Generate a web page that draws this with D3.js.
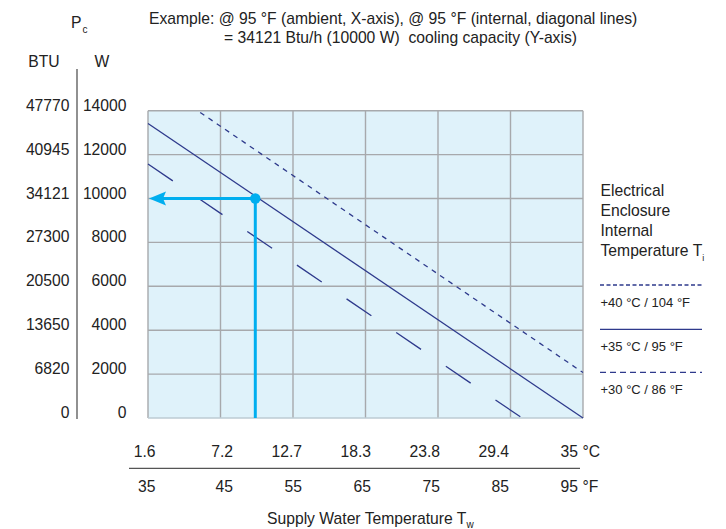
<!DOCTYPE html>
<html><head><meta charset="utf-8">
<script src="https://cdn.jsdelivr.net/npm/d3@7"></script>
<style>
body{margin:0;background:#fff;}
svg{display:block;font-family:"Liberation Sans",Arial,Helvetica,sans-serif;}
text{white-space:pre;}
</style>
</head><body>
<svg id="chart" width="726" height="529"></svg>
<script>
// ---------- data ----------
const fahrenheitTicks = [35, 45, 55, 65, 75, 85, 95];
const celsiusLabels = ["1.6", "7.2", "12.7", "18.3", "23.8", "29.4", "35"];
const fahrenheitLabels = ["35", "45", "55", "65", "75", "85", "95"];
const wattTicks = [0, 2000, 4000, 6000, 8000, 10000, 12000, 14000];
const btuLabels = ["0", "6820", "13650", "20500", "27300", "34121", "40945", "47770"];
const line40 = [[42.2, 13920], [95, 2070]];   // +40 °C / 104 °F
const line35 = [[35, 13420], [95, 0]];        // +35 °C / 95 °F
const line30 = [[35, 11570], [86.6, 0]];      // +30 °C / 86 °F
const examplePoint = [49.8, 10000];
const legendLabels = ["+40 °C / 104 °F", "+35 °C / 95 °F", "+30 °C / 86 °F"];
const titleLines = ["Example: @ 95 °F (ambient, X-axis), @ 95 °F (internal, diagonal lines)",
                    "= 34121 Btu/h (10000 W)  cooling capacity (Y-axis)"];

// ---------- setup ----------
const svg = d3.select("#chart");
const FS = 15.7;
const navy = "#2e3a8c";
const cyan = "#00aeef";
const gridC = "#a7a9ac";

const x = d3.scaleLinear().domain([35, 95]).range([148, 583]);
const y = d3.scaleLinear().domain([0, 14000]).range([418, 110.7]);
const labelX = d3.scaleLinear().domain([0, 1, 6]).range([155.5, 233, 578]);

// plot background
svg.append("rect")
  .attr("x", x(35)).attr("y", y(14000))
  .attr("width", x(95) - x(35)).attr("height", y(0) - y(14000))
  .attr("fill", "#dff2fa");

// grid
const g = svg.append("g");
g.selectAll(".v").data(fahrenheitTicks).join("line")
  .attr("x1", d => x(d)).attr("x2", d => x(d))
  .attr("y1", y(14000)).attr("y2", y(0))
  .attr("stroke", gridC).attr("stroke-width", 1.4);
g.selectAll(".h").data(wattTicks).join("line")
  .attr("x1", x(35)).attr("x2", x(95))
  .attr("y1", d => y(d)).attr("y2", d => y(d))
  .attr("stroke", d => d === 0 ? "#bccbd3" : gridC).attr("stroke-width", 1.4);

// data lines
const lineGen = d3.line().x(d => x(d[0])).y(d => y(d[1]));
svg.append("path").attr("d", lineGen(line40)).attr("fill", "none")
  .attr("stroke", navy).attr("stroke-width", 1.3).attr("stroke-dasharray", "5,5");
svg.append("path").attr("d", lineGen(line35)).attr("fill", "none")
  .attr("stroke", navy).attr("stroke-width", 1.3);
svg.append("path").attr("d", lineGen(line30)).attr("fill", "none")
  .attr("stroke", navy).attr("stroke-width", 1.3).attr("stroke-dasharray", "30,30");

// example arrow
const ex = x(examplePoint[0]), ey = y(examplePoint[1]);
svg.append("line").attr("x1", ex).attr("x2", ex).attr("y1", ey).attr("y2", y(0))
  .attr("stroke", cyan).attr("stroke-width", 3);
const tipX = x(35) + 1;
svg.append("line").attr("x1", ex).attr("x2", tipX + 14).attr("y1", ey).attr("y2", ey)
  .attr("stroke", cyan).attr("stroke-width", 3);
svg.append("path")
  .attr("d", `M${tipX},${ey} L${tipX + 17},${ey - 7} L${tipX + 14},${ey} L${tipX + 17},${ey + 7} Z`)
  .attr("fill", cyan);
svg.append("circle").attr("cx", ex).attr("cy", ey).attr("r", 5.2).attr("fill", cyan);

// left axis
svg.append("line").attr("x1", 77).attr("x2", 77).attr("y1", 69).attr("y2", 419)
  .attr("stroke", "#555").attr("stroke-width", 1.3);
svg.selectAll(".btu").data(wattTicks).join("text")
  .attr("x", 69.5).attr("y", d => y(d)).attr("text-anchor", "end")
  .attr("font-size", FS).attr("fill", "#222")
  .text((d, i) => btuLabels[i]);
svg.selectAll(".w").data(wattTicks).join("text")
  .attr("x", 126.5).attr("y", d => y(d)).attr("text-anchor", "end")
  .attr("font-size", FS).attr("fill", "#222")
  .text(d => d3.format("d")(d));
svg.append("text").attr("x", 44).attr("y", 67.3).attr("text-anchor", "middle")
  .attr("font-size", FS).attr("fill", "#222").text("BTU");
svg.append("text").attr("x", 102).attr("y", 67.3).attr("text-anchor", "middle")
  .attr("font-size", FS).attr("fill", "#222").text("W");
const pc = svg.append("text").attr("x", 71).attr("y", 27.5).attr("font-size", FS).attr("fill", "#222");
pc.append("tspan").text("P");
pc.append("tspan").attr("dy", 5).attr("dx", 1).attr("font-size", 10).text("c");

// title
svg.append("text").attr("x", 149).attr("y", 23.6).attr("font-size", FS).attr("fill", "#222").text(titleLines[0]);
svg.append("text").attr("x", 224).attr("y", 42.6).attr("font-size", FS).attr("fill", "#222").text(titleLines[1]);

// x axis labels
svg.selectAll(".cl").data(celsiusLabels).join("text")
  .attr("x", (d, i) => labelX(i)).attr("y", 457.3).attr("text-anchor", "end")
  .attr("font-size", FS).attr("fill", "#222").text(d => d);
svg.selectAll(".fl").data(fahrenheitLabels).join("text")
  .attr("x", (d, i) => labelX(i)).attr("y", 491.6).attr("text-anchor", "end")
  .attr("font-size", FS).attr("fill", "#222").text(d => d);
svg.append("text").attr("x", labelX(6) + 4.4).attr("y", 457.3).attr("font-size", FS).attr("fill", "#222").text("°C");
svg.append("text").attr("x", labelX(6) + 4.4).attr("y", 491.6).attr("font-size", FS).attr("fill", "#222").text("°F");
svg.append("line").attr("x1", 129).attr("x2", 580).attr("y1", 468.3).attr("y2", 468.3)
  .attr("stroke", "#555").attr("stroke-width", 1.3);
const xt = svg.append("text").attr("x", 267).attr("y", 523.6).attr("font-size", FS).attr("fill", "#222");
xt.append("tspan").text("Supply Water Temperature T");
xt.append("tspan").attr("dy", 4).attr("font-size", 10).text("w");

// legend
const legLines = ["Electrical", "Enclosure", "Internal", "Temperature T"];
legLines.forEach((t, i) => {
  const tx = svg.append("text").attr("x", 600.5).attr("y", 195.6 + i * 20)
    .attr("font-size", FS).attr("fill", "#222").text(t);
  if (i === 3) tx.append("tspan").attr("dy", 5).attr("font-size", 9).text("i");
});
const legY = [285, 329.3, 372.3];
const legDash = ["4,2.5", null, "6,4"];
legY.forEach((ly, i) => {
  svg.append("line").attr("x1", 600).attr("x2", 702).attr("y1", ly).attr("y2", ly)
    .attr("stroke", navy).attr("stroke-width", 1.3)
    .attr("stroke-dasharray", legDash[i]);
  svg.append("text").attr("x", 600.5).attr("y", ly + 21.6)
    .attr("font-size", 13).attr("fill", "#222").text(legendLabels[i]);
});
</script>
</body></html>
